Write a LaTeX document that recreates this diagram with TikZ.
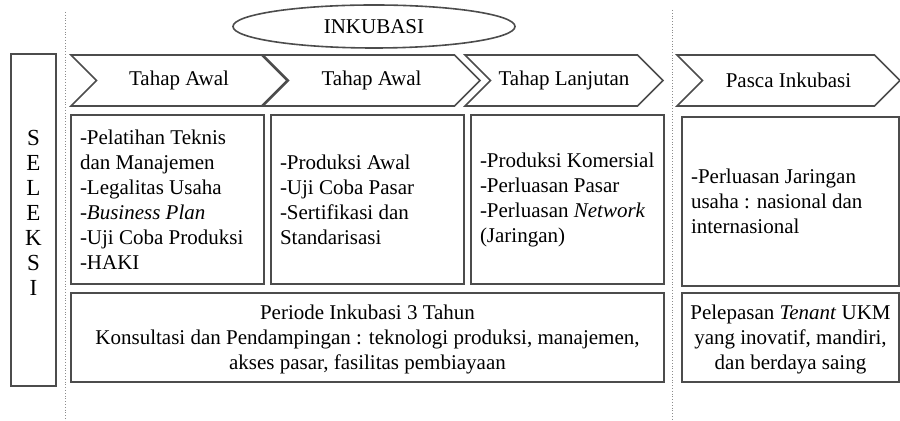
\documentclass[tikz,border=0pt]{standalone}
\usepackage{fontspec}
\setmainfont{Liberation Serif}
\usetikzlibrary{shapes.geometric}
\usetikzlibrary{shapes.symbols}
\usetikzlibrary{positioning}

\tikzset{
  stage/.style={draw=black!70,line width=0.8pt,shape=signal,signal from=west,signal to=east,
    signal pointer angle=90,minimum height=25.5pt,inner sep=0pt},
  content/.style={draw=black!70,line width=0.8pt,align=flush left,inner xsep=4.5pt,inner ysep=0pt,
    minimum height=84.5pt},
  summary/.style={draw=black!70,line width=0.8pt,align=center,inner sep=0pt,
    minimum height=44.5pt},
  divider/.style={densely dotted,black!45,line width=0.4pt}
}

\begin{document}
\begin{tikzpicture}[x=0.5pt,y=-0.5pt,font=\fontsize{10.5}{12.5}\selectfont]
      \useasboundingbox (0,0) rectangle (900,421);
      % dividers
      \draw[divider] (65,12) -- (65,421);
      \draw[divider] (672,10) -- (672,421);
      \node[draw=black!70,line width=0.8pt,ellipse,minimum width=141pt,minimum height=21.5pt,inner sep=0pt] (inkubasi) at (374,26.5) {INKUBASI};
      \node[draw=black!70,line width=0.8pt,minimum width=22.5pt,minimum height=166pt,inner sep=0pt] (seleksi) at (33.5,220) {};
      \node[align=center,inner sep=0pt,font=\fontsize{11.5}{12.5}\selectfont] (seleksiText) at (33.5,213) {S\\E\\L\\E\\K\\S\\I};
      % stages
      \node[stage,minimum width=108pt] (awal1) at (179,80.5) {Tahap Awal};
      \node[stage,minimum width=108.5pt] (awal2) at (371.5,80.5) {Tahap Awal};
      \node[stage,minimum width=99pt] (lanjutan) at (564,80.5) {Tahap Lanjutan};
      \node[stage,minimum width=111.5pt] (pasca) at (788.5,80.5) {Pasca Inkubasi};
      % activities
      \node[content,text width=87.5pt] (kegiatan1) at (167.5,199.5) {-Pelatihan Teknis\\dan Manajemen\\-Legalitas Usaha\\-\textit{Business Plan}\\-Uji Coba Produksi\\-HAKI};
      \node[content,text width=87.5pt] (kegiatan2) at (367.5,199.5) {-Produksi Awal\\-Uji Coba Pasar\\-Sertifikasi dan\\Standarisasi};
      \node[content,text width=87.5pt] (kegiatan3) at (567.5,199.5) {-Produksi~Komersial\\-Perluasan Pasar\\-Perluasan \textit{Network}\\(Jaringan)};
      \node[content,text width=99.5pt] (kegiatan4) at (790.5,201.5) {-Perluasan Jaringan\\usaha : nasional dan\\internasional};
      % bottom row
      \node[summary,minimum width=296.5pt,text depth=-1pt] (periode) at (367.5,337.5) {Periode Inkubasi 3 Tahun\\Konsultasi dan Pendampingan : teknologi produksi, manajemen,\\akses pasar, fasilitas pembiayaan};
      \node[summary,minimum width=108.5pt,text depth=-1pt] (pelepasan) at (790.5,337.5) {Pelepasan \textit{Tenant} UKM\\yang inovatif, mandiri,\\dan berdaya saing};
    \end{tikzpicture}
\end{document}
